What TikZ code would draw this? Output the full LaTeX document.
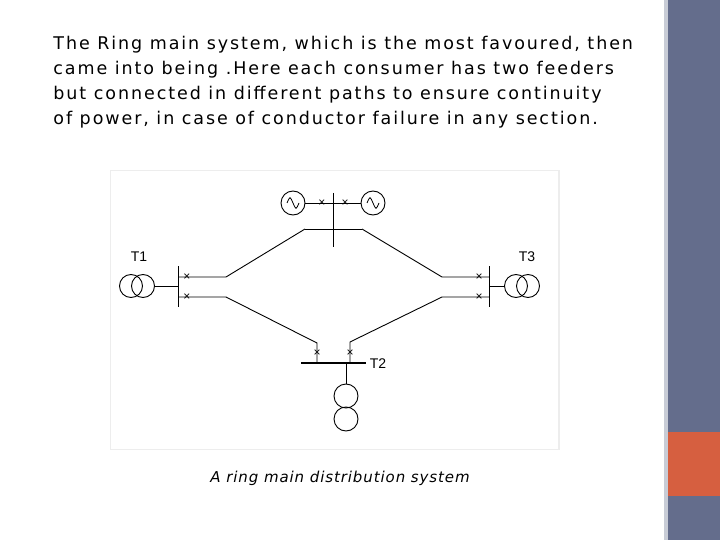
\documentclass[tikz,border=0pt]{standalone}
\usepackage{fontspec}
\usetikzlibrary{calc}
\setmainfont{DejaVu Sans}
\newfontfamily\lab{Liberation Sans}
\newfontfamily\wide[LetterSpace=11]{DejaVu Sans}
\newfontfamily\widei[LetterSpace=6,ItalicFont={DejaVu Sans Oblique}]{DejaVu Sans}
\definecolor{barblue}{RGB}{100,109,140}
\definecolor{barorange}{RGB}{214,95,64}
\definecolor{barlight}{RGB}{200,204,214}
\begin{document}
\begin{tikzpicture}[x=1pt,y=-1pt,line width=0.9pt,
  xm/.style={font=\lab\fontsize{12}{12}\selectfont,inner sep=0pt},
  txt/.style={font=\wide\fontsize{17.5}{25}\selectfont,anchor=north west,align=left,inner sep=0pt}]
\useasboundingbox (0,0) rectangle (720,540);
\fill[white] (0,0) rectangle (720,540);
\fill[white!93!black] (110,170) rectangle (560,450);
\fill[white] (111,171) rectangle (558,449);
\fill[barlight] (664,0) rectangle (670,540);
\fill[barblue] (668,0) rectangle (720,540);
\fill[barorange] (668,432) rectangle (720,496);
\node[txt] (t) at (53,36) {The Ring main system, which is the most favoured, then\\came into being .Here each consumer has two feeders\\but connected in different paths to ensure continuity\\of power, in case of conductor failure in any section.};
\node[font=\widei\itshape\fontsize{15}{16}\selectfont] (cap) at (340,478) {A ring main distribution system};
% generators
\node[draw,circle,minimum size=24pt,inner sep=0pt] (g1) at (293,203) {};
\node[draw,circle,minimum size=24pt,inner sep=0pt] (g2) at (373,203) {};
\draw (g1.east) -- (g2.west);
\foreach \p in {g1,g2} \draw[line width=0.8pt] ($(\p)+(-6,0)$) .. controls +(3,-7) and +(-3,-7) .. ($(\p)$) .. controls +(3,7) and +(-3,7) .. ($(\p)+(6,0)$);
\node[xm] (x1) at (322,203) {×};
\node[xm] (x2) at (345,203) {×};
\coordinate (bt) at (333,193); \coordinate (bb) at (333,247);
\draw (bt) -- (bb);
\coordinate (tl) at (305,229); \coordinate (tr) at (362,229);
\draw (tl) -- (tr);
% left bus
\coordinate (lb1) at (178,266); \coordinate (lb2) at (178,307);
\draw (lb1) -- (lb2);
\draw (tl) -- (226,277) -- (178,277);
\draw (178,297) -- (226,297) -- (317,343) -- (317,363);
\node[xm] at (187,277) {×}; \node[xm] at (187,297) {×};
\node[draw,circle,minimum size=23pt,inner sep=0pt] (a1) at (131,286) {};
\node[draw,circle,minimum size=23pt,inner sep=0pt] (a2) at (143,286) {};
\draw (a2.east) -- (178,286);
\node[font=\lab\fontsize{14}{14}\selectfont] at (139,257) {T1};
% right bus
\draw (489,266) -- (489,307);
\draw (tr) -- (442,277) -- (489,277);
\draw (489,297) -- (442,297) -- (350,342) -- (350,363);
\node[xm] at (479,277) {×}; \node[xm] at (479,297) {×};
\node[draw,circle,minimum size=23pt,inner sep=0pt] (c1) at (516,286) {};
\node[draw,circle,minimum size=23pt,inner sep=0pt] (c2) at (528,286) {};
\draw (c1.west) -- (489,286);
\node[font=\lab\fontsize{14}{14}\selectfont] at (527,257) {T3};
% T2
\draw[line width=2.8pt] (301,363) -- (366,363);
\node[xm] at (317,353) {×}; \node[xm] at (350,353) {×};
\node[draw,circle,minimum size=24pt,inner sep=0pt] (d1) at (346,396) {};
\node[draw,circle,minimum size=24pt,inner sep=0pt] (d2) at (346,419) {};
\draw (346,363) -- (d1.north);
\node[font=\lab\fontsize{14}{14}\selectfont] at (378,364) {T2};
\end{tikzpicture}
\end{document}
